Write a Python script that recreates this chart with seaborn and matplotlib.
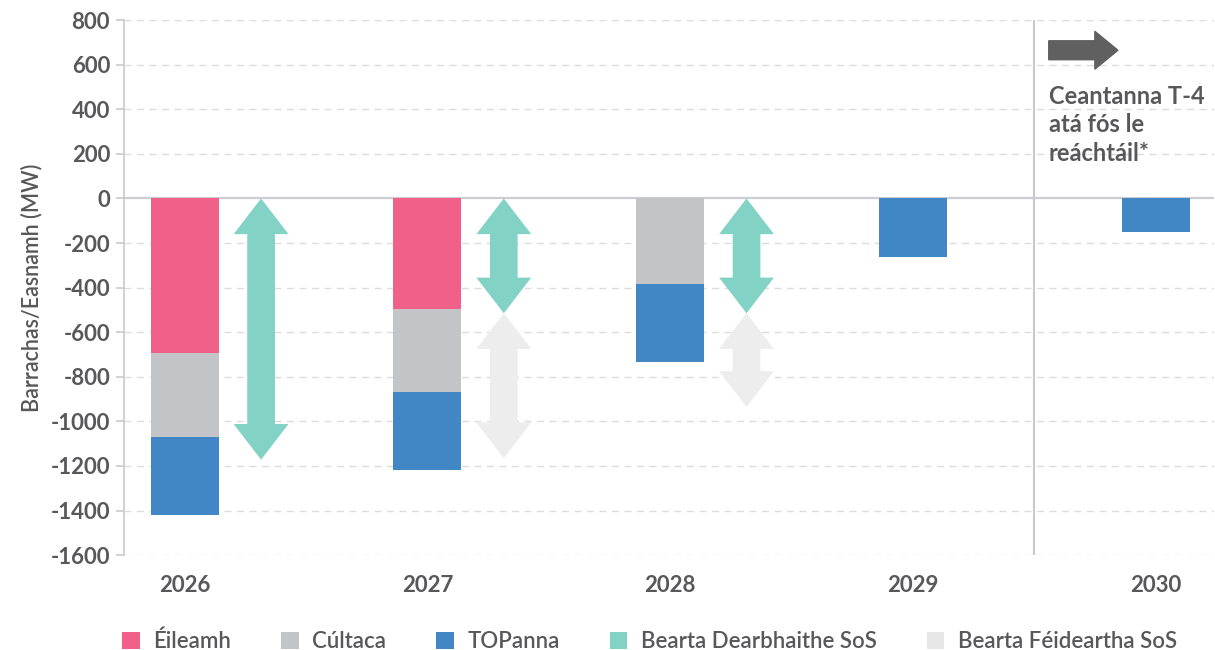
import numpy as np
import pandas as pd
import matplotlib
matplotlib.use("Agg")
import matplotlib.pyplot as plt
from matplotlib.patches import Patch, Polygon, FancyArrow
import seaborn as sns

years = ["2026", "2027", "2028", "2029", "2030"]
eileamh = [-695, -495, 0, 0, 0]
cultaca = [-375, -375, -385, 0, 0]
topanna = [-350, -350, -350, -262, -150]
# SoS measure arrows (start, end) per year, None = no arrow
dearbhaithe = [(0, -1172), (0, -515), (0, -515), None, None]
feideartha = [None, (-515, -1165), (-515, -935), None, None]

yticks = list(range(800, -1601, -200))
legend_labels = ["Éileamh", "Cúltaca", "TOPanna", "Bearta Dearbhaithe SoS", "Bearta Féideartha SoS"]
note_text = "Ceantanna T-4\natá fós le\nreáchtáil*"

c_pink = "#F06088"
c_grey = "#C3C4C8"
c_blue = "#4287C5"
c_teal = "#82D3C5"
c_light = "#EDEDED"
txt = "#58585A"

sns.set_theme(style="white")
plt.rcParams["font.family"] = ["Lato", "DejaVu Sans"]

df = pd.DataFrame({"year": years, "e": eileamh, "c": cultaca, "t": topanna})
df["lvl1"] = df["e"]
df["lvl2"] = df["e"] + df["c"]
df["lvl3"] = df["e"] + df["c"] + df["t"]

fig = plt.figure(figsize=(12.15, 6.5), dpi=100)
ax = fig.add_axes([0.102, 0.146, 0.897, 0.823])

bw = 0.28
for col, color in [("lvl3", c_blue), ("lvl2", c_grey), ("lvl1", c_pink)]:
    sns.barplot(data=df, x="year", y=col, color=color, width=bw, ax=ax,
                saturation=1, linewidth=0, zorder=3)

def dbl_arrow(ax, xc, y0, y1, color):
    hw = 0.113   # half head width
    sw = 0.057   # half shaft width
    hl = 160     # head length in data units
    L = abs(y1 - y0)
    h = min(hl, L / 2.0)
    pts = [(xc, y0), (xc + hw, y0 - h), (xc + sw, y0 - h), (xc + sw, y1 + h),
           (xc + hw, y1 + h), (xc, y1), (xc - hw, y1 + h), (xc - sw, y1 + h),
           (xc - sw, y0 - h), (xc - hw, y0 - h)]
    ax.add_patch(Polygon(pts, closed=True, facecolor=color, edgecolor="none", zorder=3))

for i in range(len(years)):
    if feideartha[i] is not None:
        dbl_arrow(ax, i + 0.315, feideartha[i][0], feideartha[i][1], c_light)
    if dearbhaithe[i] is not None:
        dbl_arrow(ax, i + 0.315, dearbhaithe[i][0], dearbhaithe[i][1], c_teal)

ax.set_xlim(-0.25, 4.24)
ax.set_ylim(-1600, 800)
ax.set_yticks(yticks)
ax.set_yticklabels([str(v) for v in yticks])
for v in yticks:
    if v == 0:
        ax.axhline(0, color="#CDCDD5", lw=1.6, zorder=2)
    else:
        ax.axhline(v, color="#DCDCDC", lw=1.0, ls=(0, (5, 4)), zorder=1)

ax.axvline(3.5, color="#C8C8D0", lw=1.5, zorder=2)

for s in ["top", "right", "bottom"]:
    ax.spines[s].set_visible(False)
ax.spines["left"].set_color("#C8C8D0")
ax.spines["left"].set_linewidth(1.2)
ax.tick_params(axis="y", which="both", left=True, length=6, width=1.2, color="#C8C8D0",
               labelsize=16, labelcolor=txt, pad=4)
ax.tick_params(axis="x", bottom=False, labelsize=16, labelcolor=txt, pad=8)
for lab in ax.get_yticklabels() + ax.get_xticklabels():
    lab.set_fontweight("bold")
ax.set_xlabel("")
ax.set_ylabel("Barrachas/Easnamh (MW)", fontsize=15.5, color=txt, fontweight="semibold", labelpad=6)

# note arrow and text
ax.add_patch(FancyArrow(3.56, 665, 0.19, 0, width=85, head_width=170, head_length=0.095,
                        length_includes_head=False, color="#606060", zorder=4))
ax.text(3.56, 510, note_text, ha="left", va="top", fontsize=17, color=txt,
        fontweight="bold", linespacing=1.3, zorder=4)

handles = [Patch(facecolor=c, edgecolor="none") for c in [c_pink, c_grey, c_blue, c_teal, "#E6E6E6"]]
fig.legend(handles, legend_labels, loc="lower left", bbox_to_anchor=(0.084, -0.034), ncol=5,
           frameon=False, handlelength=0.8, handleheight=0.8,
           handletextpad=0.6, columnspacing=2.25, labelcolor=txt,
           prop={"weight": "semibold", "size": 16})

fig.savefig("out.png", dpi=100)
